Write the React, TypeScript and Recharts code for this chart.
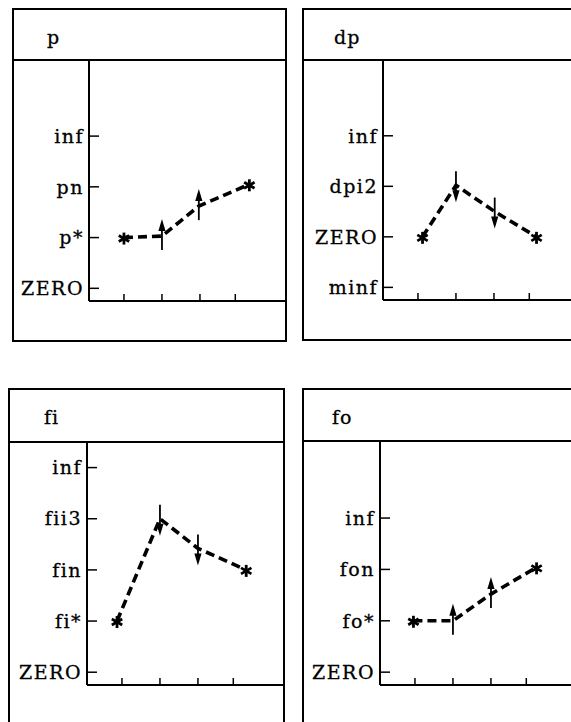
import React from 'react';
import { ComposedChart, Line, Scatter, XAxis, YAxis } from 'recharts';

// ---- data ----
const X_TICKS = [1, 2, 3, 3.93];

const P_TICKS = ['ZERO', 'p*', 'pn', 'inf'];
const P_X = [1, 2, 2.97, 4.3];
const P_Y = [1, 1.03, 1.62, 2.05];
const P_MARK = ['star', 'up', 'up', 'star'];

const DP_TICKS = ['minf', 'ZERO', 'dpi2', 'inf'];
const DP_X = [1.12, 2, 3.02, 4.12];
const DP_Y = [1, 2.02, 1.5, 1.0];
const DP_MARK = ['star', 'down', 'down', 'star'];

const FI_TICKS = ['ZERO', 'fi*', 'fin', 'fii3', 'inf'];
const FI_X = [0.87, 2, 3, 4.27];
const FI_Y = [1, 3, 2.42, 2];
const FI_MARK = ['star', 'down', 'down', 'star'];

const FO_TICKS = ['ZERO', 'fo*', 'fon', 'inf'];
const FO_X = [0.96, 2, 3, 4.2];
const FO_Y = [1, 1, 1.52, 2.04];
const FO_MARK = ['star', 'up', 'up', 'star'];

const TITLES = ['p', 'dp', 'fi', 'fo'];

// ---- layout (styles only) ----
const LAYOUT = [
  { left: 13, top: 9, right: 286, bottom: 341, titleBottom: 60, axisX: 89, axisY: 301, titleX: 34 },
  { left: 303, top: 9, right: 610, bottom: 340, titleBottom: 60, axisX: 383, axisY: 300, titleX: 31 },
  { left: 9, top: 389, right: 284, bottom: 724, titleBottom: 442, axisX: 87, axisY: 685, titleX: 35 },
  { left: 303, top: 389, right: 610, bottom: 726, titleBottom: 441, axisX: 380, axisY: 685, titleX: 29 },
];

const FONT = '"DejaVu Serif", "Liberation Serif", serif';
const UNIT_X = 38;
const X0 = 0.08;
const Y_DOMAIN: [number, number] = [-0.25, 4.5];

const Star = (props: any) => {
  const { cx, cy } = props;
  if (cx == null || cy == null) return null;
  const r = 6;
  return (
    <g>
      {[90, 30, 150].map((a) => {
        const rad = (a * Math.PI) / 180;
        const dx = r * Math.cos(rad);
        const dy = r * Math.sin(rad);
        return (
          <line key={a} x1={cx - dx} y1={cy + 1 - dy} x2={cx + dx} y2={cy + 1 + dy} stroke="#000" strokeWidth={2.8} />
        );
      })}
    </g>
  );
};

const Arrow = (props: any) => {
  const { cx, cy, payload } = props;
  if (cx == null || cy == null) return null;
  const dir = payload.mark === 'up' ? -1 : 1;
  const head = cy + dir * 17;
  const tail = cy - dir * 14;
  const hl = 12;
  return (
    <g>
      <line x1={cx} x2={cx} y1={tail} y2={head - dir * 4} stroke="#000" strokeWidth={1.8} />
      <path d={`M${cx},${head} L${cx - 3.6},${head - dir * hl} L${cx + 3.6},${head - dir * hl} Z`} fill="#000" />
    </g>
  );
};

function Panel({ idx, labels, xs, ys, marks }: any) {
  const L = LAYOUT[idx];
  const plotW = L.right - L.axisX;
  const plotH = L.axisY - L.titleBottom;
  const yAxisW = 80;
  const mTop = 5;
  const xAxisH = 10;
  const pts = xs.map((x: number, i: number) => ({ x, y: ys[i], mark: marks[i] }));
  const stars = pts.filter((p: any) => p.mark === 'star');
  const arrows = pts.filter((p: any) => p.mark !== 'star');
  const yTicks = labels.map((_: string, i: number) => i);
  return (
    <>
      <div
        style={{
          position: 'absolute',
          left: L.left - 1,
          top: L.top - 1,
          width: L.right - L.left + 2,
          height: L.bottom - L.top + 2,
          border: '2px solid #000',
          boxSizing: 'border-box',
        }}
      />
      <div
        style={{
          position: 'absolute',
          left: L.left,
          top: L.titleBottom - 1,
          width: L.right - L.left,
          height: 2,
          background: '#000',
        }}
      />
      <div
        style={{
          position: 'absolute',
          left: L.left + L.titleX,
          top: L.top + 17,
          fontFamily: FONT,
          fontSize: 19,
          lineHeight: '22px',
          letterSpacing: 1,
          color: '#000',
          WebkitTextStroke: '0.3px #000',
        }}
      >
        {TITLES[idx]}
      </div>
      <div style={{ position: 'absolute', left: L.axisX - yAxisW, top: L.titleBottom - mTop }}>
        <ComposedChart
          width={yAxisW + plotW}
          height={mTop + plotH + xAxisH}
          margin={{ top: mTop, right: 0, bottom: 0, left: 0 }}
        >
          <XAxis
            type="number"
            dataKey="x"
            domain={[X0, X0 + plotW / UNIT_X]}
            ticks={X_TICKS}
            interval={0}
            allowDataOverflow
            height={xAxisH}
            tickSize={-7}
            tickFormatter={() => ''}
            axisLine={{ stroke: '#000', strokeWidth: 2 }}
            tickLine={{ stroke: '#000', strokeWidth: 1.5 }}
          />
          <YAxis
            type="number"
            dataKey="y"
            domain={Y_DOMAIN}
            ticks={yTicks}
            interval={0}
            allowDataOverflow
            width={yAxisW}
            tickSize={-10}
            tickMargin={15}
            tickFormatter={(v: number) => labels[v] ?? ''}
            tick={{ fontFamily: FONT, fontSize: 19, fill: '#000', letterSpacing: 1.5, stroke: '#000', strokeWidth: 0.3 } as any}
            axisLine={{ stroke: '#000', strokeWidth: 2 }}
            tickLine={{ stroke: '#000', strokeWidth: 1.5 }}
          />
          <Line
            data={pts}
            dataKey="y"
            stroke="#000"
            strokeWidth={3.6}
            strokeDasharray="9 5"
            dot={false}
            activeDot={false}
            isAnimationActive={false}
          />
          <Scatter data={arrows} dataKey="y" shape={Arrow} isAnimationActive={false} />
          <Scatter data={stars} dataKey="y" shape={Star} isAnimationActive={false} />
        </ComposedChart>
      </div>
    </>
  );
}

export default function App() {
  return (
    <div
      style={{
        position: 'absolute',
        left: 0,
        top: 0,
        width: 571,
        height: 722,
        overflow: 'hidden',
        background: '#fff',
      }}
    >
      <Panel idx={0} labels={P_TICKS} xs={P_X} ys={P_Y} marks={P_MARK} />
      <Panel idx={1} labels={DP_TICKS} xs={DP_X} ys={DP_Y} marks={DP_MARK} />
      <Panel idx={2} labels={FI_TICKS} xs={FI_X} ys={FI_Y} marks={FI_MARK} />
      <Panel idx={3} labels={FO_TICKS} xs={FO_X} ys={FO_Y} marks={FO_MARK} />
    </div>
  );
}
